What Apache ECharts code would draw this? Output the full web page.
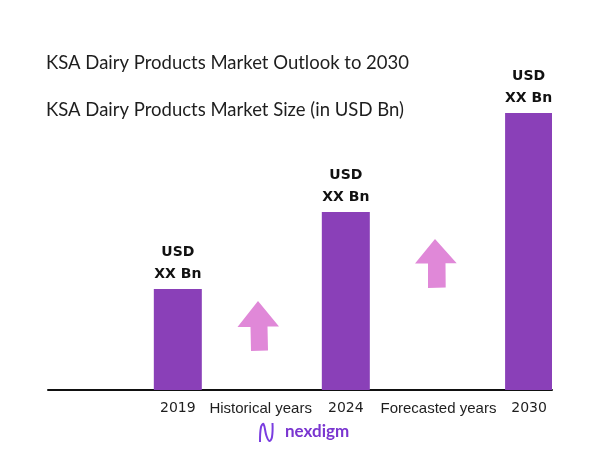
<!DOCTYPE html>
<html>
<head>
<meta charset="utf-8">
<script src="https://cdn.jsdelivr.net/npm/echarts@6/dist/echarts.min.js"></script>
<style>
html,body{margin:0;padding:0;background:#fff;}
#chart{width:602px;height:451px;}
</style>
</head>
<body>
<div id="chart"></div>
<script>
// ---- data ----
const years = ['2019', '2024', '2030'];
const values = [36.5, 64.3, 100];
const barLabels = ['USD\nXX Bn', 'USD\nXX Bn', 'USD\nXX Bn'];
const periodLabels = ['Historical years', 'Forecasted years'];
const titleText = 'KSA Dairy Products Market Outlook to 2030';
const subtitleText = 'KSA Dairy Products Market Size (in USD Bn)';

// ---- layout (slot positions on the category axis) ----
const slotCount = 33;
const yearSlots = [8, 19, 31];
const periodSlots = [13, 25];

const categories = new Array(slotCount).fill('');
const seriesData = new Array(slotCount).fill('-');
years.forEach((y, i) => { categories[yearSlots[i]] = 'Y:' + y; seriesData[yearSlots[i]] = values[i]; });
periodLabels.forEach((p, i) => { categories[periodSlots[i]] = 'P' + i + ':' + p; });
const labelBySlot = {};
yearSlots.forEach((s, i) => { labelBySlot[s] = barLabels[i]; });

const chart = echarts.init(document.getElementById('chart'), null, {renderer: 'canvas'});
const purple = '#8a40b8';
const pink = '#e088d8';

chart.setOption({
  backgroundColor: '#ffffff',
  animation: false,
  title: [
    {text: titleText, left: 41, top: 49,
     textStyle: {fontFamily: 'Lato', fontWeight: 'normal', fontSize: 18.5, color: '#1e1e1e'}},
    {text: subtitleText, left: 41, top: 96,
     textStyle: {fontFamily: 'Lato', fontWeight: 'normal', fontSize: 18.5, color: '#1e1e1e'}}
  ],
  grid: {left: 48, right: 50, top: 113, bottom: 61, containLabel: false},
  xAxis: {
    type: 'category',
    data: categories,
    boundaryGap: true,
    axisLine: {show: true, lineStyle: {color: '#111', width: 2}},
    axisTick: {show: false},
    axisLabel: {
      interval: 0,
      margin: 11,
      formatter: function (v) {
        if (!v) return '';
        if (v.indexOf('Y:') === 0) return '{yr|' + v.slice(2) + '}';
        if (v.indexOf('P0:') === 0) return '{pa|' + v.slice(3) + '}';
        return '{pb|' + v.slice(3) + '}';
      },
      rich: {
        yr: {fontFamily: 'DejaVu Sans', fontSize: 14, color: '#1e1e1e'},
        pa: {fontFamily: 'Liberation Sans', fontSize: 15, color: '#1e1e1e', padding: [0, 0, 0, 13]},
        pb: {fontFamily: 'Liberation Sans', fontSize: 15, color: '#1e1e1e', padding: [0, 0, 0, 2]}
      }
    },
    splitLine: {show: false}
  },
  yAxis: {type: 'value', min: 0, max: 100, show: false},
  series: [{
    type: 'bar',
    data: seriesData,
    barWidth: 48,
    itemStyle: {color: purple},
    label: {
      show: true,
      position: 'top',
      distance: 4,
      formatter: function (p) { return labelBySlot[p.dataIndex] || ''; },
      fontFamily: 'DejaVu Sans',
      fontWeight: 'bold',
      fontSize: 14,
      lineHeight: 22,
      color: '#111'
    }
  }],
  graphic: [
    {type: 'polygon', shape: {points: [[258,301],[279,326.5],[267.5,326.5],[268,350.5],[251,351],[250.5,327],[237.5,327]]},
     style: {fill: pink}},
    {type: 'polygon', shape: {points: [[435,239],[456.7,263.3],[445.5,263.3],[445.7,287.5],[428,288],[428,263.5],[415,263.5]]},
     style: {fill: pink}},
    {type: 'polyline', shape: {points: [[260,442],[261,427],[263.5,424],[266.5,436],[269.5,441],[272,437],[272.5,423]], smooth: 0.4},
     style: {stroke: '#7a3de0', lineWidth: 2, fill: null}},
    {type: 'text', left: 285, top: 423,
     style: {text: 'nexdigm', fontFamily: 'Lato', fontWeight: 'bold', fontSize: 17, fill: '#7a35d0'}}
  ]
});
</script>
</body>
</html>
